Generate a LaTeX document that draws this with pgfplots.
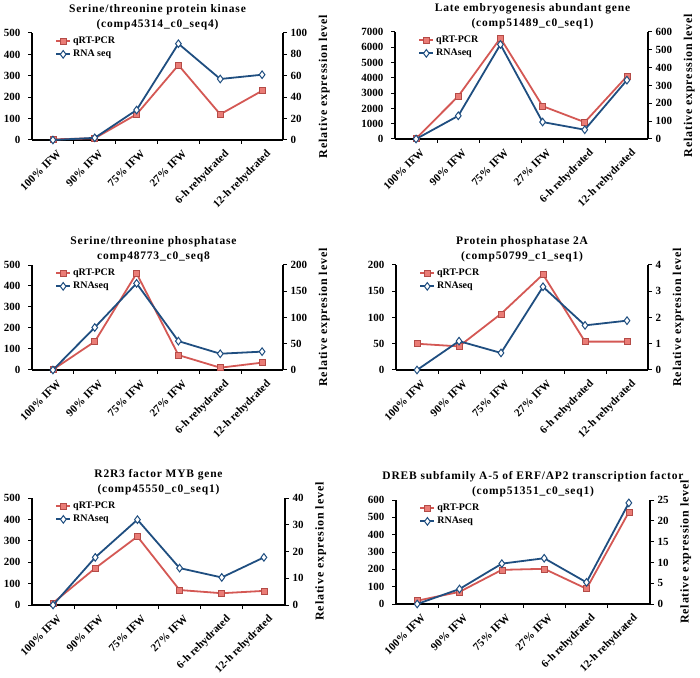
\documentclass[border=0pt]{standalone}
\usepackage{pgfplots}
\pgfplotsset{compat=1.18}
\usepackage{fontspec}
\setmainfont{Liberation Serif}
\newfontfamily\titlefont[LetterSpace=7]{Liberation Serif}

\definecolor{pcrred}{RGB}{212,88,84}
\definecolor{pcrfill}{RGB}{234,124,118}
\definecolor{seqblue}{RGB}{31,78,128}

\pgfplotsset{
  panel/.style={
    scale only axis, anchor=south west,
    xmin=-0.5, xmax=5.5, ymin=0, clip=false,
    tick align=outside, major tick length=4pt, minor tick length=4pt,
    axis line style={line width=1.3pt, black},
    every tick/.style={line width=1pt, black},
    scaled y ticks=false,
    /pgf/number format/1000 sep={},
    /pgf/number format/assume math mode=true,
    tick label style={font=\bfseries\fontsize{11}{13}\selectfont},
  },
  leftax/.style={panel,
    axis x line*=bottom, axis y line*=left,
    xtick={0,...,5},
    xticklabels={100\% IFW, 90\% IFW, 75\% IFW, 27\% IFW, 6-h rehydrated, 12-h rehydrated},
    major x tick style={draw=none},
    minor xtick={0.5,1.5,2.5,3.5,4.5},
    xticklabel style={rotate=45, anchor=north east, inner sep=1pt, yshift=-5pt},
    yticklabel style={xshift=-4pt},
    title style={font=\titlefont\bfseries\fontsize{11.5}{15}\selectfont, align=center, yshift=-6pt},
  },
  rightax/.style={panel,
    axis y line*=right, axis x line=none,
    ylabel near ticks, ylabel shift=5pt,
    ylabel style={font=\titlefont\bfseries\fontsize{12}{13}\selectfont},
    legend style={at={(0.08,1.0)}, anchor=north west, draw=none, fill=none,
      font=\bfseries\fontsize{10}{12}\selectfont, row sep=1pt},
    legend cell align=left,
    legend image code/.code={\draw[mark repeat=2, mark phase=2] plot coordinates {(0pt,0pt) (7pt,0pt) (14pt,0pt)};},
  },
  pcr/.style={color=pcrred, line width=1.8pt, mark=square*, mark size=3pt,
    mark options={fill=pcrfill, draw=pcrred!85!black, line width=0.6pt}},
  seq/.style={color=seqblue, line width=1.8pt, mark=diamond*, mark size=3.8pt,
    mark options={fill=white, draw=seqblue, line width=1pt}},
}

\begin{document}
\begin{tikzpicture}
\useasboundingbox (0pt,0pt) rectangle (700pt,677pt);

% panel 1
\begin{axis}[leftax, at={(32pt,537pt)}, width=251pt, height=107pt,
    ymax=500, ytick={0,100,...,500},
    title={Serine/threonine protein kinase\\(comp45314\_c0\_seq4)}]
  \addplot[pcr] coordinates {(0,3) (1,8) (2,120) (3,350) (4,120) (5,230)};
\end{axis}
\begin{axis}[rightax, at={(32pt,537pt)}, width=251pt, height=107pt,
    ymax=100, ytick={0,20,...,100}, ylabel={Relative expression level}]
  \addlegendimage{pcr}
  \addlegendentry{qRT-PCR}
  \addplot[seq] coordinates {(0,0) (1,2) (2,28) (3,90) (4,57) (5,61)};
  \addlegendentry{RNA seq}
\end{axis}

% panel 2
\begin{axis}[leftax, at={(395pt,538pt)}, width=253pt, height=107pt,
    ymax=7000, ytick={0,1000,...,7000},
    title style={xshift=11pt},
    title={Late embryogenesis abundant gene\\(comp51489\_c0\_seq1)}]
  \addplot[pcr] coordinates {(0,30) (1,2800) (2,6600) (3,2150) (4,1100) (5,4100)};
\end{axis}
\begin{axis}[rightax, at={(395pt,538pt)}, width=253pt, height=107pt,
    ymax=600, ytick={0,100,...,600}, ylabel={Relative expression level}]
  \addlegendimage{pcr}
  \addlegendentry{qRT-PCR}
  \addplot[seq] coordinates {(0,0) (1,130) (2,530) (3,95) (4,52) (5,330)};
  \addlegendentry{RNAseq}
\end{axis}

% panel 3
\begin{axis}[leftax, at={(32pt,307pt)}, width=251pt, height=105pt,
    ymax=500, ytick={0,100,...,500},
    title style={xshift=-4pt},
    title={Serine/threonine phosphatase\\comp48773\_c0\_seq8}]
  \addplot[pcr] coordinates {(0,2) (1,135) (2,460) (3,71) (4,11) (5,35)};
\end{axis}
\begin{axis}[rightax, at={(32pt,307pt)}, width=251pt, height=105pt,
    ymax=200, ytick={0,50,...,200}, ylabel={Relative expresion level}]
  \addlegendimage{pcr}
  \addlegendentry{qRT-PCR}
  \addplot[seq] coordinates {(0,0) (1,81) (2,165) (3,55) (4,31) (5,35)};
  \addlegendentry{RNAseq}
\end{axis}

% panel 4
\begin{axis}[leftax, at={(396pt,307pt)}, width=252pt, height=105pt,
    ymax=200, ytick={0,50,...,200},
    title={Protein phosphatase 2A\\(comp50799\_c1\_seq1)}]
  \addplot[pcr] coordinates {(0,50) (1,45) (2,107) (3,182) (4,54) (5,54)};
\end{axis}
\begin{axis}[rightax, at={(396pt,307pt)}, width=252pt, height=105pt,
    ymax=4, ytick={0,1,...,4}, ylabel={Relative expresion level}]
  \addlegendimage{pcr}
  \addlegendentry{qRT-PCR}
  \addplot[seq] coordinates {(0,0) (1,1.1) (2,0.65) (3,3.17) (4,1.7) (5,1.88)};
  \addlegendentry{RNAseq}
\end{axis}

% panel 5
\begin{axis}[leftax, at={(32pt,72pt)}, width=253pt, height=107pt,
    ymax=500, ytick={0,100,...,500},
    title={R2R3 factor MYB gene\\(comp45550\_c0\_seq1)}]
  \addplot[pcr] coordinates {(0,10) (1,172) (2,320) (3,70) (4,55) (5,66)};
\end{axis}
\begin{axis}[rightax, at={(32pt,72pt)}, width=253pt, height=107pt,
    ymax=40, ytick={0,10,...,40}, ylabel={Relative expresion level}]
  \addlegendimage{pcr}
  \addlegendentry{qRT-PCR}
  \addplot[seq] coordinates {(0,0) (1,17.8) (2,31.9) (3,13.8) (4,10.3) (5,17.8)};
  \addlegendentry{RNAseq}
\end{axis}

% panel 6
\begin{axis}[leftax, at={(396pt,73pt)}, width=254pt, height=104pt,
    ymax=600, ytick={0,100,...,600},
    title style={xshift=10pt},
    title={DREB subfamily A-5 of ERF/AP2 transcription factor\\(comp51351\_c0\_seq1)}]
  \addplot[pcr] coordinates {(0,19) (1,70) (2,197) (3,203) (4,88) (5,530)};
\end{axis}
\begin{axis}[rightax, at={(396pt,73pt)}, width=254pt, height=104pt,
    ymax=25, ytick={0,5,...,25}, ylabel={Relative expression level}]
  \addlegendimage{pcr}
  \addlegendentry{qRT-PCR}
  \addplot[seq] coordinates {(0,0) (1,3.6) (2,9.7) (3,11) (4,5.2) (5,24.3)};
  \addlegendentry{RNAseq}
\end{axis}
\end{tikzpicture}
\end{document}
